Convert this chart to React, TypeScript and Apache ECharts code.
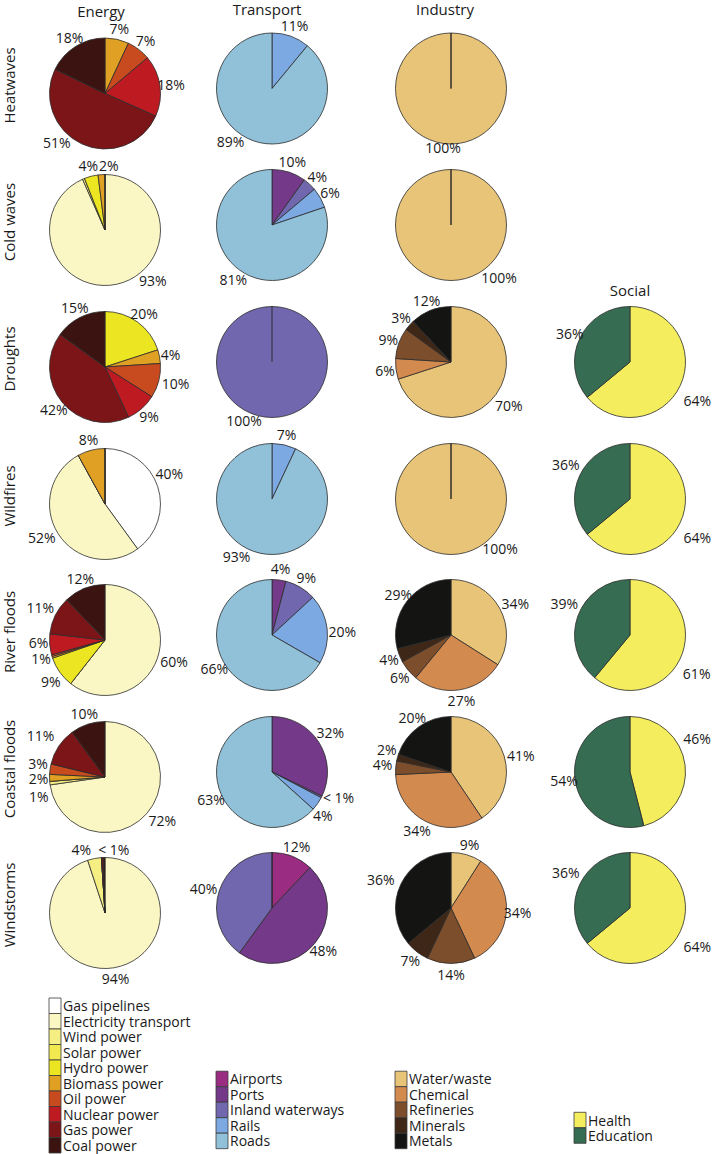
import React, { useEffect, useRef } from 'react';
import * as echarts from 'echarts';

// ---------- data ----------
const hazards = ['Heatwaves', 'Cold waves', 'Droughts', 'Wildfires', 'River floods', 'Coastal floods', 'Windstorms'];
const sectors = ['Energy', 'Transport', 'Industry', 'Social'];

const energyCategories = ['Gas pipelines', 'Electricity transport', 'Wind power', 'Solar power', 'Hydro power', 'Biomass power', 'Oil power', 'Nuclear power', 'Gas power', 'Coal power'];
const energyValues = [
  [0, 0, 0, 0, 0, 7, 7, 18, 51, 18],
  [0, 93, 0.6, 0, 4, 2, 0, 0, 0, 0],
  [0, 0, 0, 0, 20, 4, 10, 9, 42, 15],
  [40, 52, 0, 0, 0, 8, 0, 0, 0, 0],
  [0, 60, 0, 0, 9, 0.5, 0.5, 6, 11, 12],
  [0, 72, 1, 0, 0, 2, 3, 0, 11, 10],
  [0, 94, 4, 0, 0, 0, 0, 0, 0.5, 0.5],
];
const energyLabels = [
  ['', '', '', '', '', '7%', '7%', '18%', '51%', '18%'],
  ['', '93%', '', '', '4%', '2%', '', '', '', ''],
  ['', '', '', '', '20%', '4%', '10%', '9%', '42%', '15%'],
  ['40%', '52%', '', '', '', '8%', '', '', '', ''],
  ['', '60%', '', '', '9%', '', '1%', '6%', '11%', '12%'],
  ['', '72%', '1%', '', '', '2%', '3%', '', '11%', '10%'],
  ['', '94%', '4%', '', '', '', '', '', '< 1%', ''],
];

const transportCategories = ['Airports', 'Ports', 'Inland waterways', 'Rails', 'Roads'];
const transportValues = [
  [0, 0, 0, 11, 89],
  [0, 10, 4, 6, 81],
  [0, 0, 100, 0, 0],
  [0, 0, 0, 7, 93],
  [0, 4, 9, 20, 66],
  [0, 32, 0.5, 4, 63],
  [12, 48, 40, 0, 0],
];
const transportLabels = [
  ['', '', '', '11%', '89%'],
  ['', '10%', '4%', '6%', '81%'],
  ['', '', '100%', '', ''],
  ['', '', '', '7%', '93%'],
  ['', '4%', '9%', '20%', '66%'],
  ['', '32%', '< 1%', '4%', '63%'],
  ['12%', '48%', '40%', '', ''],
];

const industryCategories = ['Water/waste', 'Chemical', 'Refineries', 'Minerals', 'Metals'];
const industryValues = [
  [100, 0, 0, 0, 0],
  [100, 0, 0, 0, 0],
  [70, 6, 9, 3, 12],
  [100, 0, 0, 0, 0],
  [34, 27, 6, 4, 29],
  [41, 34, 4, 2, 20],
  [9, 34, 14, 7, 36],
];
const industryLabels = [
  ['100%', '', '', '', ''],
  ['100%', '', '', '', ''],
  ['70%', '6%', '9%', '3%', '12%'],
  ['100%', '', '', '', ''],
  ['34%', '27%', '6%', '4%', '29%'],
  ['41%', '34%', '4%', '2%', '20%'],
  ['9%', '34%', '14%', '7%', '36%'],
];

const socialCategories = ['Health', 'Education'];
const socialValues = [null, null, [64, 36], [64, 36], [61, 39], [46, 54], [64, 36]];
const socialLabels = [null, null, ['64%', '36%'], ['64%', '36%'], ['61%', '39%'], ['46%', '54%'], ['64%', '36%']];

// ---------- styles / layout ----------
const energyColors = ['#ffffff', '#faf7c4', '#f5ee83', '#f1e94f', '#ece622', '#dfa023', '#c84b1f', '#bd1a22', '#7c1517', '#3b1310'];
const transportColors = ['#9a2d82', '#743a89', '#7167ae', '#7ca9e2', '#90c1d8'];
const industryColors = ['#e8c478', '#d38a4f', '#7d4e2b', '#3f2717', '#141413'];
const socialColors = ['#f4ee5e', '#366c52'];

const colX = [105, 272, 451, 630];
const colDy = [5, 0, 0, 0];
const rowY = [88.5, 225, 362, 499, 635, 772, 908];
const pieRadius = 55.5;
// label ring: inside labels of this invisible ring sit at 1.2 x pie radius
const labelRing = [60, 67.2];
const FONT = '"Open Sans", "Noto Sans", sans-serif';
const TEXT_COLOR = '#1a1a1a';
const BORDER = '#2b2b2b';

// legend block placement
const legendLeft = [49, 216, 395, 574];
const legendTop = [998, 1071.2, 1071.2, 1112.3];
const legendRow = 15.5;
const legendSwatch = 12;

// hand placement tweaks of single labels: "col-row-index" -> [dx, dy]
const labelNudges: Record<string, [number, number]> = {
  '0-0-8': [-20, -11],
  '0-1-5': [8, 2],
  '0-1-1': [34, -15],
  '0-2-6': [6, 0],
  '0-3-0': [1, -10],
  '0-3-1': [-7, -2],
  '0-4-1': [6, 0],
  '0-4-4': [0, 3],
  '0-4-7': [0, -3],
  '0-4-8': [-5, -3],
  '0-5-1': [7, 0],
  '0-5-2': [0, 12],
  '0-5-6': [-1, -4],
  '0-5-8': [-9, -5],
  '0-6-2': [-11, 2],
  '0-6-8': [12, 3],
  '1-0-4': [-19, -10],
  '1-2-2': [-28, -8],
  '1-3-4': [-21, -7],
  '1-4-3': [4, 4],
  '1-5-1': [2, -4],
  '1-5-2': [7, -4],
  '1-5-3': [-4, 5],
  '1-6-2': [-5, 1],
  '2-0-0': [-8, -8],
  '2-1-0': [48, -14],
  '2-2-0': [4, 4],
  '2-3-0': [49, -17],
  '2-4-0': [6, 1],
  '2-5-0': [6, 3],
  '2-5-1': [-4, -1],
  '2-5-2': [-2, -2],
  '2-5-3': [0, -5],
  '2-6-4': [-10, 0],
  '3-2-0': [7, 10],
  '3-3-0': [7, 10],
  '3-3-1': [-4, -6],
  '3-4-0': [4, 16],
  '3-4-1': [-3, -9],
  '3-5-0': [1, -25],
  '3-6-0': [7, 10],
  '3-6-1': [-4, -7],
};

type Block = { cats: string[]; values: (number[] | null)[]; labels: (string[] | null)[]; colors: string[] };
const blocks: Block[] = [
  { cats: energyCategories, values: energyValues, labels: energyLabels, colors: energyColors },
  { cats: transportCategories, values: transportValues, labels: transportLabels, colors: transportColors },
  { cats: industryCategories, values: industryValues, labels: industryLabels, colors: industryColors },
  { cats: socialCategories, values: socialValues, labels: socialLabels, colors: socialColors },
];

function buildOption() {
  const pies: any[] = [];
  const rings: any[] = [];
  blocks.forEach((b, c) => {
    b.values.forEach((vals, r) => {
      if (!vals) return;
      const labs = b.labels[r] as string[];
      const center = [colX[c], rowY[r] + colDy[c]];
      pies.push({
        type: 'pie',
        name: sectors[c] + ' - ' + hazards[r],
        center,
        radius: pieRadius,
        startAngle: 90,
        clockwise: true,
        silent: true,
        emphasis: { disabled: true },
        itemStyle: { borderColor: BORDER, borderWidth: 0.8 },
        label: { show: false },
        labelLine: { show: false },
        data: b.cats.map((name, i) => ({
          name,
          value: vals[i],
          itemStyle: vals[i] === 0 ? { color: b.colors[i], borderWidth: 0.3 } : { color: b.colors[i] },
        })),
      });
      rings.push({
        type: 'pie',
        name: sectors[c] + ' - ' + hazards[r] + ' labels',
        center,
        radius: labelRing,
        startAngle: 90,
        clockwise: true,
        silent: true,
        avoidLabelOverlap: false,
        emphasis: { disabled: true },
        itemStyle: { color: 'rgba(0,0,0,0)', borderWidth: 0 },
        label: {
          show: true,
          position: 'inside',
          fontSize: 14,
          lineHeight: 14,
          fontFamily: FONT,
          color: TEXT_COLOR,
          textBorderWidth: 0,
          formatter: (p: any) => labs[p.dataIndex],
        },
        labelLine: { show: false },
        labelLayout: (p: any) => {
          const n = labelNudges[`${c}-${r}-${p.dataIndex}`];
          return n ? { dx: n[0], dy: n[1] } : {};
        },
        data: b.cats.map((name, i) => ({
          name,
          value: vals[i],
          itemStyle: { color: 'rgba(0,0,0,0)' },
          label: { show: labs[i] !== '' },
        })),
      });
    });
  });

  const graphic: any[] = [];
  // legends
  blocks.forEach((b, c) => {
    b.cats.forEach((name, i) => {
      const y0 = legendTop[c] + i * legendRow;
      graphic.push({
        type: 'rect',
        silent: true,
        shape: { x: legendLeft[c], y: y0, width: legendSwatch, height: legendRow },
        style: { fill: b.colors[i], stroke: '#3a3a3a', lineWidth: 0.8 },
      });
      graphic.push({
        type: 'text',
        silent: true,
        x: legendLeft[c] + legendSwatch + 2,
        y: y0 + legendRow / 2,
        style: { text: name, font: `14px ${FONT}`, lineHeight: 15, fill: TEXT_COLOR, textAlign: 'left', textVerticalAlign: 'middle' },
      });
    });
  });

  const titlePos = [[101, 11], [267, 9], [445, 9], [630, 290]];
  sectors.forEach((s, i) => {
    graphic.push({
      type: 'text',
      silent: true,
      x: titlePos[i][0],
      y: titlePos[i][1],
      style: { text: s, font: `15px ${FONT}`, fill: TEXT_COLOR, textAlign: 'center', textVerticalAlign: 'middle' },
    });
  });
  hazards.forEach((h, r) => {
    graphic.push({
      type: 'text',
      silent: true,
      x: 8.5,
      y: rowY[r] - 3,
      rotation: Math.PI / 2,
      style: { text: h, font: `15px ${FONT}`, fill: TEXT_COLOR, textAlign: 'center', textVerticalAlign: 'middle' },
    });
  });

  return { animation: false, backgroundColor: '#ffffff', series: [...pies, ...rings], graphic };
}

export default function App() {
  const ref = useRef<HTMLDivElement>(null);
  useEffect(() => {
    document.body.style.margin = '0';
    if (!ref.current) return;
    const chart = echarts.init(ref.current, null, { renderer: 'svg' });
    chart.setOption(buildOption());
    return () => chart.dispose();
  }, []);
  return <div ref={ref} style={{ width: 714, height: 1154 }} />;
}
